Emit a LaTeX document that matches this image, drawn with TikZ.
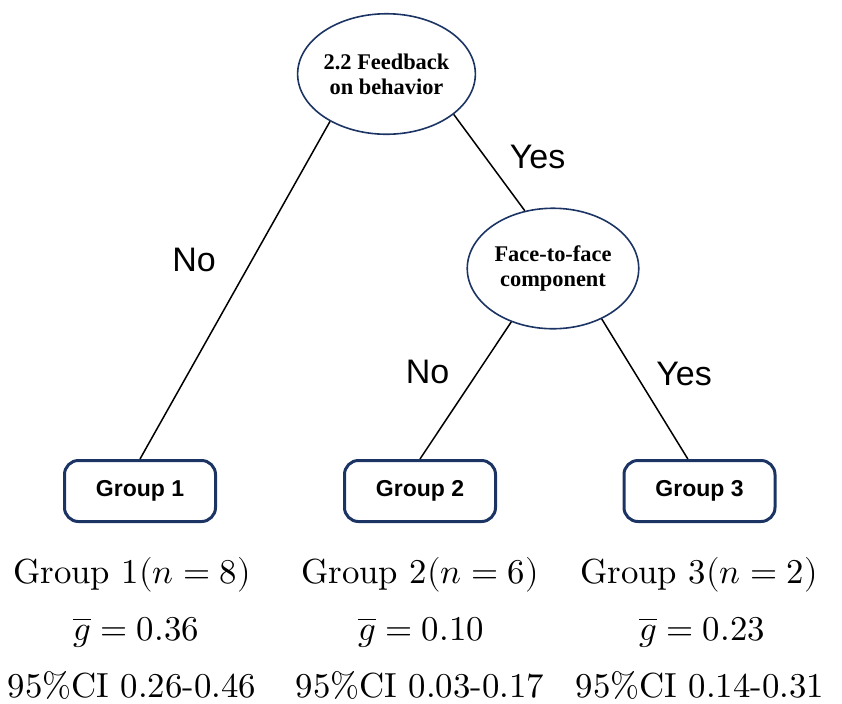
\documentclass[tikz,border=0pt]{standalone}
\usepackage{amsmath}
\usepackage{fontspec}
\usepackage{unicode-math}
\newfontfamily\helvfont{Liberation Sans}
\newfontfamily\timesfont{Liberation Serif}
\newfontfamily\statsfont{lmroman10-regular.otf}
\usetikzlibrary{shapes.geometric}
\definecolor{navy}{RGB}{28,52,100}

\begin{document}
\begin{tikzpicture}[x=0.5pt, y=-0.5pt,
    question/.style = {ellipse, draw=navy, line width=0.8pt, minimum width=85.75pt, minimum height=60.25pt, inner sep=0pt, align=center, font=\timesfont\bfseries\fontsize{11.2}{12.5}\selectfont},
    group/.style = {rectangle, rounded corners=7pt, draw=navy, line width=1.5pt, minimum width=75.5pt, minimum height=30.5pt, inner sep=0pt, font=\helvfont\bfseries\fontsize{11.5}{13}\selectfont},
    answer/.style = {anchor=base, inner sep=0pt, font=\helvfont\fontsize{17}{20}\selectfont},
    stats/.style = {anchor=base, inner sep=0pt, font=\statsfont\fontsize{17.4}{20}\selectfont}
]

    \useasboundingbox (0,0) rectangle (842,703);

    \node [question] (feedback) at (386.5,74) {2.2 Feedback\\on behavior};
    \node [question] (face) at (553,268.5) {Face-to-face\\component};

    \node [group] (g1) at (140,491) {Group 1};
    \node [group] (g2) at (420,491) {Group 2};
    \node [group] (g3) at (699.5,491) {Group 3};

    \draw [line width=0.75pt] (feedback.220) -- (g1.north);
    \draw [line width=0.75pt] (feedback.-31) -- (face.116);
    \draw [line width=0.75pt] (face.232) -- (g2.north);
    \draw [line width=0.75pt] (face.-46) -- (g3.110);

    \node [answer] (no1) at (194,271) {No};
    \node [answer] (yes1) at (537.5,168) {Yes};
    \node [answer] (no2) at (427.5,383) {No};
    \node [answer] (yes2) at (684,385) {Yes};

    \node [stats] (n1) at (132,583) {Group 1$(n=8)$};
    \node [stats] (m1) at (136,640) {$\overline{g}=0.36$};
    \node [stats] (ci1) at (132,697) {95\%CI 0.26-0.46};

    \node [stats] (n2) at (420,583) {Group 2$(n=6)$};
    \node [stats] (m2) at (421,640) {$\overline{g}=0.10$};
    \node [stats] (ci2) at (420,697) {95\%CI 0.03-0.17};

    \node [stats] (n3) at (699,583) {Group 3$(n=2)$};
    \node [stats] (m3) at (702,640) {$\overline{g}=0.23$};
    \node [stats] (ci3) at (700,697) {95\%CI 0.14-0.31};

\end{tikzpicture}
\end{document}
